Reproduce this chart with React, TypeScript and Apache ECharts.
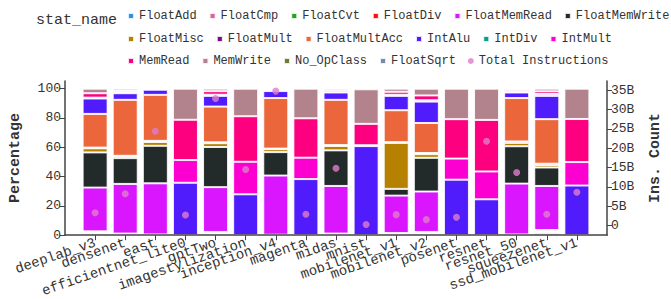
import React, { useEffect, useRef } from "react";
import * as echarts from "echarts";

const categories = [
  "deeplab_v3", "densenet", "east", "efficientnet_lite0", "gptTwo", "imagestylization",
  "inception_v4", "magenta", "midas", "mnist", "mobilenet_v1", "mobilenet_v2",
  "posenet", "resnet", "resnet_50", "squeezenet", "ssd_mobilenet_v1",
];

const FloatAdd = [1.0, 0.5, 0.3, 0, 1.0, 0, 0.3, 0, 0.6, 0, 0.8, 1.0, 0, 0, 0.3, 1.5, 0];
const FloatCmp = [0.8, 0.3, 0, 0, 0.6, 0, 0, 0, 0.3, 0, 0.4, 0.5, 0, 0, 0, 0.8, 0];
const FloatCvt = [0.4, 0.2, 0, 0, 0.3, 0, 0, 0, 0, 0, 0, 0.3, 0, 0, 0, 0.4, 0];
const FloatDiv = [0.4, 0.1, 0.2, 0, 0.3, 0, 0, 0, 0.2, 0, 0.3, 0.4, 0, 0, 0.2, 0.8, 0];
const FloatMemRead = [29.9, 33.9, 34.9, 0, 30.6, 0, 40.4, 0, 32.5, 0, 25.5, 27.6, 0, 0, 34.7, 30.1, 0];
const FloatMemWrite = [24.0, 17.6, 25.6, 0, 27.4, 0, 16.0, 0, 24.3, 0, 4.6, 23.0, 0, 0, 25.5, 12.6, 0];
const FloatMisc = [2.8, 1.2, 2.6, 0, 2.6, 0, 2.0, 0, 3.0, 0, 31.4, 2.5, 0, 0, 2.3, 1.6, 0];
const FloatMult = [0.5, 0.4, 0.8, 0, 0.6, 0, 0.4, 0, 0.6, 0, 0.5, 0.8, 0, 0, 1.0, 1.0, 0];
const FloatMultAcc = [23.0, 38.2, 31.4, 0, 24.4, 0, 34.5, 0, 30.9, 0, 21.8, 20.5, 0, 0, 29.6, 30.4, 0];
const IntAlu = [10.5, 4.5, 3.5, 35.8, 7.3, 27.9, 4.8, 38.3, 5.0, 60.8, 9.8, 14.6, 37.9, 24.5, 3.8, 15.9, 33.9];
const IntDiv = [0, 0, 0, 0, 0, 0, 0, 0, 0, 0, 0, 0, 0, 0, 0, 0, 0];
const IntMult = [0.6, 0.8, 0, 15.5, 0.8, 22.2, 0, 14.6, 0.5, 0.6, 0.8, 0.9, 14.4, 19.0, 0.6, 1.3, 16.0];
const MemRead = [3.0, 1.0, 0, 27.5, 2.4, 31.1, 0, 26.9, 1.0, 14.6, 2.0, 3.3, 26.9, 35.2, 1.0, 1.8, 29.4];
const MemWrite = [3.1, 1.3, 0, 21.2, 1.7, 18.8, 0, 20.2, 1.1, 23.6, 2.1, 4.6, 20.8, 21.3, 1.0, 1.8, 20.7];
const No_OpClass = [0, 0, 0, 0, 0, 0, 0, 0, 0, 0, 0, 0, 0, 0, 0, 0, 0];
const FloatSqrt = [0, 0, 0, 0, 0, 0, 0, 0, 0, 0, 0, 0, 0, 0, 0, 0, 0];

// Total instructions, in billions
const TotalInstructionsB = [3.3, 8.2, 24.4, 2.7, 32.9, 14.5, 34.8, 2.9, 14.8, 0.25, 2.8, 1.5, 2.1, 21.8, 13.7, 2.9, 8.6];

const percentTicks = [0, 20, 40, 60, 80, 100];
const countTicksB = [0, 5, 10, 15, 20, 25, 30, 35];

const stats: [string, number[], string][] = [
  ["FloatAdd", FloatAdd, "#2E91E5"],
  ["FloatCmp", FloatCmp, "#E15F99"],
  ["FloatCvt", FloatCvt, "#1CA71C"],
  ["FloatDiv", FloatDiv, "#FB0D0D"],
  ["FloatMemRead", FloatMemRead, "#DA16FF"],
  ["FloatMemWrite", FloatMemWrite, "#222A2A"],
  ["FloatMisc", FloatMisc, "#B68100"],
  ["FloatMult", FloatMult, "#750D86"],
  ["FloatMultAcc", FloatMultAcc, "#EB663B"],
  ["IntAlu", IntAlu, "#511CFB"],
  ["IntDiv", IntDiv, "#00A08B"],
  ["IntMult", IntMult, "#FB00D1"],
  ["MemRead", MemRead, "#FC0080"],
  ["MemWrite", MemWrite, "#B2828D"],
  ["No_OpClass", No_OpClass, "#6C7C32"],
  ["FloatSqrt", FloatSqrt, "#778AAE"],
];

const legendRows = [
  ["FloatAdd", "FloatCmp", "FloatCvt", "FloatDiv", "FloatMemRead", "FloatMemWrite"],
  ["FloatMisc", "FloatMult", "FloatMultAcc", "IntAlu", "IntDiv", "IntMult"],
  ["MemRead", "MemWrite", "No_OpClass", "FloatSqrt", "Total Instructions"],
];

const FONT = "Liberation Mono";
const TEXT = "#333";
const AXIS = "#444";

export default function App() {
  const ref = useRef<HTMLDivElement>(null);
  useEffect(() => {
    if (!ref.current) return;
    const chart = echarts.init(ref.current, undefined, { renderer: "svg" });
    // one empty slot on each side of the categories (the plot is padded by one band)
    const axisCats = ["", ...categories, ""];
    const pad = (arr: (number | null)[]) => [null, ...arr, null];
    const isReal = (i: number) => i > 0 && i < axisCats.length - 1;
    const barSeries = stats.map(([name, vals, color]) => ({
      name,
      type: "bar",
      stack: "total",
      yAxisIndex: 0,
      barWidth: 25,
      data: pad(vals.map((v) => (v === 0 ? null : v))),
      itemStyle: { color, borderColor: "rgba(255,255,255,0.85)", borderWidth: 1 },
      emphasis: { disabled: true },
    }));
    const option: any = {
      animation: false,
      backgroundColor: "#fff",
      textStyle: { fontFamily: FONT },
      title: {
        text: "stat_name",
        left: 36,
        top: 13,
        padding: 0,
        textStyle: { fontFamily: FONT, fontSize: 15, fontWeight: "normal", color: TEXT },
      },
      legend: legendRows.map((row, r) => ({
        data: row.map((n) => ({ name: n, icon: n === "Total Instructions" ? "circle" : "rect" })),
        left: 127,
        top: [10, 33, 55][r],
        width: 620,
        padding: 0,
        itemWidth: 6,
        itemHeight: 6,
        itemGap: 12,
        textStyle: { fontFamily: FONT, fontSize: 12, color: TEXT },
      })),
      grid: { left: 57, right: 47, top: 81, bottom: 59, containLabel: false },
      xAxis: {
        type: "category",
        data: axisCats,
        boundaryGap: false,
        z: 5,
        axisLine: { show: true, lineStyle: { color: AXIS, width: 1.5 } },
        axisTick: { show: true, interval: (i: number) => isReal(i), length: 5, lineStyle: { color: AXIS } },
        axisLabel: {
          interval: 0,
          hideOverlap: false,
          rotate: 19,
          margin: 7,
          fontFamily: FONT,
          fontSize: 14,
          color: TEXT,
        },
        splitLine: { show: false },
      },
      yAxis: [
        {
          type: "value",
          min: 0,
          max: 105.26,
          position: "left",
          name: "Percentage",
          nameLocation: "middle",
          nameGap: 42,
          nameRotate: 90,
          nameTextStyle: { fontFamily: FONT, fontSize: 15, fontWeight: "bold", color: TEXT },
          axisLine: { show: true, lineStyle: { color: AXIS, width: 1.5 } },
          axisTick: { show: true, customValues: percentTicks, length: 5, lineStyle: { color: AXIS } },
          axisLabel: { customValues: percentTicks, margin: 4, fontFamily: FONT, fontSize: 13, color: TEXT },
          splitLine: { show: false },
        },
        {
          type: "value",
          min: -2.52e9,
          max: 37.42e9,
          position: "right",
          name: "Ins. Count",
          nameLocation: "middle",
          nameGap: 41,
          nameRotate: 90,
          nameTextStyle: { fontFamily: FONT, fontSize: 15, fontWeight: "bold", color: TEXT },
          axisLine: { show: true, lineStyle: { color: AXIS, width: 1.5 } },
          axisTick: { show: true, customValues: countTicksB.map((b) => b * 1e9), length: 5, lineStyle: { color: AXIS } },
          axisLabel: {
            customValues: countTicksB.map((b) => b * 1e9),
            formatter: (v: number) => (v === 0 ? "0" : Math.round(v / 1e9) + "B"),
            margin: 4,
            fontFamily: FONT,
            fontSize: 13,
            color: TEXT,
          },
          splitLine: { show: false },
        },
      ],
      series: [
        ...barSeries,
        {
          name: "Total Instructions",
          type: "scatter",
          yAxisIndex: 1,
          symbol: "circle",
          symbolSize: 7,
          z: 4,
          data: pad(TotalInstructionsB.map((b) => b * 1e9)),
          itemStyle: { color: "#e07ccc" },
          emphasis: { disabled: true },
        },
      ],
    };
    chart.setOption(option);
    return () => chart.dispose();
  }, []);
  return (
    <div
      ref={ref}
      style={{ position: "fixed", left: 0, top: 0, width: 671, height: 299 }}
    />
  );
}
